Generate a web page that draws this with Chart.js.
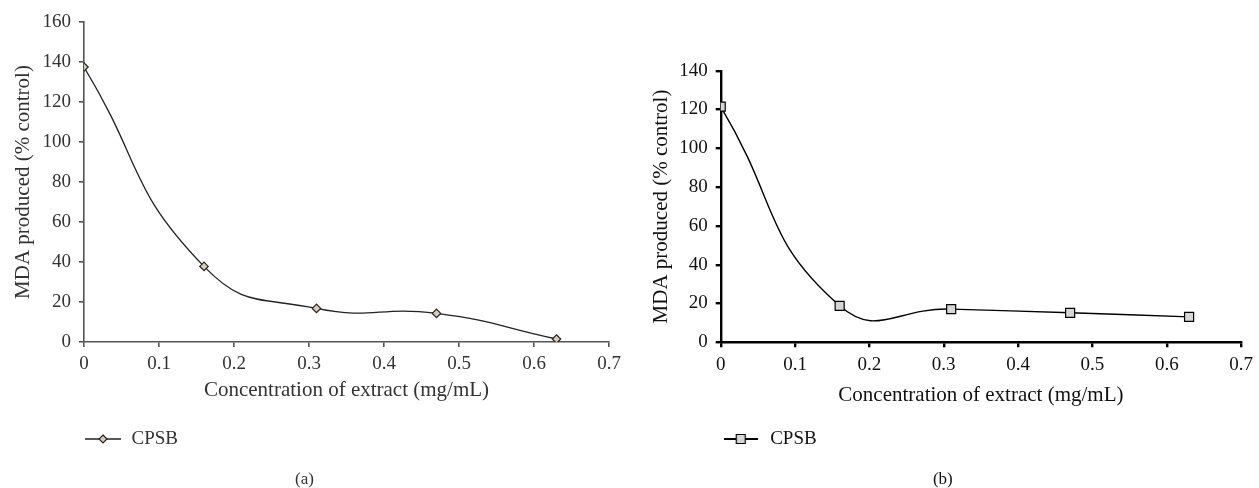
<!DOCTYPE html>
<html>
<head>
<meta charset="utf-8">
<script src="https://cdn.jsdelivr.net/npm/chart.js@4/dist/chart.umd.min.js"></script>
<style>
  body { margin: 0; background: #fff; }
  #wrapA { position: absolute; left: 0; top: 0; width: 640px; height: 488px; }
  #wrapB { position: absolute; left: 640px; top: 0; width: 619px; height: 488px; }
</style>
</head>
<body>
<div id="wrapA"><canvas id="chartA"></canvas></div>
<div id="wrapB"><canvas id="chartB"></canvas></div>
<script>
// data
const conc = [0, 0.16, 0.31, 0.47, 0.63];
const mdaA = [137.5, 37.8, 16.8, 14.3, 1.5];
const mdaB = [121.5, 18.8, 17.1, 15.2, 13.1];
const xTicks = [0, 0.1, 0.2, 0.3, 0.4, 0.5, 0.6, 0.7];
const yMaxA = 160, yMaxB = 140, yStep = 20;
const seriesName = "CPSB";
const xTitle = "Concentration of extract (mg/mL)";
const yTitle = "MDA produced (% control)";

const serif = "'Liberation Serif', 'DejaVu Serif', serif";

// small legend icon: line with the marker in the middle
function legendIcon(shape, w, fill, stroke) {
  const c = document.createElement("canvas");
  c.width = w; c.height = 14;
  const g = c.getContext("2d");
  g.strokeStyle = stroke;
  g.lineWidth = shape === "rect" ? 2 : 1.3;
  g.beginPath(); g.moveTo(0, 7); g.lineTo(w, 7); g.stroke();
  g.fillStyle = fill;
  g.lineWidth = 1.2;
  g.beginPath();
  if (shape === "rect") {
    g.rect(w / 2 - 4.5, 2.5, 9, 9);
  } else {
    g.moveTo(w / 2, 3); g.lineTo(w / 2 + 4, 7); g.lineTo(w / 2, 11); g.lineTo(w / 2 - 4, 7); g.closePath();
  }
  g.fill(); g.stroke();
  return c;
}

function makeChart(id, values, o) {
  return new Chart(document.getElementById(id), {
    type: "line",
    data: {
      datasets: [{
        label: seriesName,
        data: conc.map((x, i) => ({ x, y: values[i] })),
        borderColor: o.line,
        borderWidth: o.lineW,
        tension: 0.5,
        pointStyle: o.shape,
        pointRadius: o.radius,
        pointBackgroundColor: o.fill,
        pointBorderColor: o.line,
        pointBorderWidth: 1.2,
        fill: false
      }]
    },
    options: {
      responsive: true,
      maintainAspectRatio: false,
      animation: false,
      events: [],
      layout: { padding: { top: o.top, right: o.right, left: 0, bottom: 0 } },
      scales: {
        x: {
          type: "linear",
          min: 0, max: 0.7,
          afterBuildTicks: s => { s.ticks = xTicks.map(v => ({ value: v })); },
          afterFit: s => { s.height = o.xH; },
          ticks: {
            padding: 6,
            color: o.text,
            font: { family: serif, size: 19 },
            callback: v => String(+v.toFixed(1))
          },
          grid: { drawOnChartArea: false, drawTicks: true, tickLength: 5, color: o.axis, lineWidth: o.axisW },
          border: { display: true, color: o.axis, width: o.axisW },
          title: {
            display: true, text: xTitle, color: o.text,
            font: { family: serif, size: 21 },
            padding: { top: 0, bottom: o.xTitlePad }
          }
        },
        y: {
          min: 0, max: o.yMax,
          ticks: { stepSize: yStep, padding: 8, color: o.text, font: { family: serif, size: 19 } },
          afterFit: s => { s.width = o.yW; },
          grid: { drawOnChartArea: false, drawTicks: true, tickLength: 5, color: o.axis, lineWidth: o.axisW },
          border: { display: true, color: o.axis, width: o.axisW },
          title: {
            display: true, text: yTitle, color: o.text,
            font: { family: serif, size: 21 },
            padding: { top: o.yTitlePad, bottom: 0 }
          }
        }
      },
      plugins: {
        legend: {
          position: "bottom",
          align: "start",
          fullSize: false,
          labels: {
            usePointStyle: true,
            pointStyle: o.icon,
            pointStyleWidth: o.iconBox,
            padding: 0,
            color: o.text,
            font: { family: serif, size: 19 }
          }
        },
        title: {
          display: true,
          position: "bottom",
          text: o.tag,
          color: o.text,
          font: { family: serif, size: 17, lineHeight: 1, weight: "normal" },
          padding: { top: 12.5, bottom: 0 }
        },
        tooltip: { enabled: false }
      }
    }
  });
}

makeChart("chartA", mdaA, {
  yMax: yMaxA, top: 22, right: 31, yW: 84, xH: 87.5,
  xTitlePad: 26.8, yTitlePad: 10.4,
  line: "#222", lineW: 1.3, shape: "rectRot", radius: 4.2, fill: "#d9ccb3",
  axis: "#555", axisW: 1.6, text: "#333",
  icon: legendIcon("rectRot", 36, "#d9ccb3", "#222"), iconBox: 38, tag: "(a)"
});

makeChart("chartB", mdaB, {
  yMax: yMaxB, top: 70.7, right: 13.3, yW: 80.7, xH: 87.2,
  xTitlePad: 21.8, yTitlePad: 8.4,
  line: "#000", lineW: 1.4, shape: "rect", radius: 6.4, fill: "#d6d6d6",
  axis: "#000", axisW: 2.4, text: "#111",
  icon: legendIcon("rect", 34, "#d6d6d6", "#000"), iconBox: 40, tag: "(b)"
});
</script>
</body>
</html>
